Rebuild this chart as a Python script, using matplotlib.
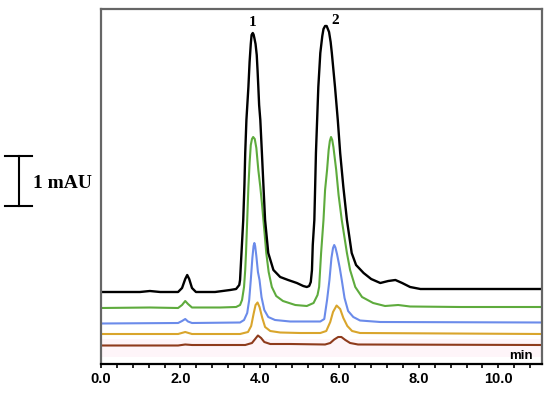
import numpy as np
import matplotlib
matplotlib.use("Agg")
import matplotlib.pyplot as plt
from matplotlib.lines import Line2D
from matplotlib.transforms import blended_transform_factory

# chromatogram traces (time in min, signal in mAU, offset stacked)
t_black = [0.00, 0.98, 1.23, 1.49, 1.94, 2.04, 2.12, 2.17, 2.22, 2.29, 2.39, 2.87, 3.25, 3.40, 3.48, 3.50,
           3.54, 3.58, 3.61, 3.63, 3.66, 3.71, 3.74, 3.77, 3.79, 3.82, 3.84, 3.86, 3.89, 3.92, 3.94, 3.96,
           3.98, 4.01, 4.05, 4.09, 4.13, 4.21, 4.34, 4.51, 4.71, 4.93, 5.09, 5.18, 5.24, 5.28, 5.31, 5.33,
           5.37, 5.39, 5.41, 5.44, 5.47, 5.52, 5.57, 5.60, 5.64, 5.68, 5.74, 5.78, 5.81, 5.89, 5.96, 6.02,
           6.10, 6.19, 6.31, 6.42, 6.61, 6.80, 7.03, 7.23, 7.41, 7.58, 7.78, 8.04, 9.04, 11.11]
y_black = [1.46, 1.46, 1.48, 1.46, 1.46, 1.54, 1.72, 1.80, 1.72, 1.54, 1.46, 1.46, 1.50, 1.52, 1.60, 1.70,
           2.30, 2.90, 3.60, 4.24, 4.90, 5.56, 6.06, 6.42, 6.60, 6.64, 6.61, 6.54, 6.42, 6.20, 5.90, 5.56,
           5.20, 4.90, 4.24, 3.56, 2.90, 2.24, 1.90, 1.76, 1.70, 1.64, 1.58, 1.56, 1.58, 1.66, 1.90, 2.40,
           2.90, 3.56, 4.24, 4.90, 5.56, 6.24, 6.58, 6.72, 6.78, 6.78, 6.66, 6.46, 6.24, 5.56, 4.90, 4.24,
           3.56, 2.90, 2.24, 2.00, 1.84, 1.72, 1.64, 1.68, 1.70, 1.64, 1.56, 1.52, 1.52, 1.52]

t_green = [0.00, 1.23, 1.94, 2.04, 2.12, 2.19, 2.29, 3.00, 3.40, 3.50, 3.55, 3.60, 3.63, 3.65, 3.68, 3.71,
           3.74, 3.77, 3.80, 3.83, 3.87, 3.91, 3.96, 4.01, 4.05, 4.11, 4.16, 4.22, 4.30, 4.41, 4.58, 4.89,
           5.18, 5.35, 5.45, 5.49, 5.54, 5.60, 5.64, 5.69, 5.73, 5.76, 5.79, 5.82, 5.85, 5.92, 5.98, 6.06,
           6.19, 6.27, 6.40, 6.57, 6.85, 7.15, 7.48, 7.78, 9.04, 11.11]
y_green = [1.14, 1.15, 1.14, 1.20, 1.28, 1.22, 1.15, 1.15, 1.16, 1.20, 1.30, 1.56, 1.90, 2.24, 2.90, 3.56,
           4.04, 4.40, 4.52, 4.56, 4.52, 4.34, 3.90, 3.56, 3.24, 2.70, 2.24, 1.86, 1.56, 1.38, 1.28, 1.20,
           1.18, 1.24, 1.40, 1.56, 2.24, 2.90, 3.50, 3.90, 4.30, 4.48, 4.56, 4.50, 4.36, 3.90, 3.40, 2.90,
           2.24, 1.90, 1.56, 1.36, 1.24, 1.18, 1.20, 1.17, 1.16, 1.16]

t_blue = [0.00, 1.94, 2.04, 2.12, 2.19, 2.29, 3.50, 3.60, 3.68, 3.73, 3.77, 3.81, 3.84, 3.86, 3.88, 3.91,
          3.95, 3.99, 4.04, 4.11, 4.21, 4.38, 4.76, 5.52, 5.62, 5.69, 5.75, 5.80, 5.84, 5.87, 5.90, 5.94,
          6.01, 6.06, 6.13, 6.22, 6.35, 6.52, 7.03, 11.11]
y_blue = [0.83, 0.84, 0.88, 0.92, 0.87, 0.84, 0.85, 0.90, 1.04, 1.30, 1.70, 2.14, 2.38, 2.44, 2.38, 2.18,
          1.86, 1.70, 1.36, 1.10, 0.96, 0.90, 0.87, 0.87, 0.92, 1.30, 1.70, 2.14, 2.34, 2.40, 2.35, 2.22,
          1.94, 1.70, 1.34, 1.08, 0.96, 0.89, 0.86, 0.85]

t_yellow = [0.00, 1.94, 2.12, 2.29, 3.50, 3.70, 3.78, 3.84, 3.89, 3.94, 3.99, 4.06, 4.13, 4.26, 4.51, 5.01,
            5.52, 5.67, 5.77, 5.84, 5.93, 6.02, 6.10, 6.20, 6.32, 6.52, 11.11]
y_yellow = [0.62, 0.62, 0.66, 0.62, 0.62, 0.66, 0.78, 1.02, 1.20, 1.25, 1.16, 0.94, 0.76, 0.68, 0.65, 0.64,
            0.64, 0.68, 0.86, 1.06, 1.19, 1.12, 0.94, 0.78, 0.68, 0.64, 0.62]

t_brown = [0.00, 1.94, 2.12, 2.29, 3.63, 3.80, 3.88, 3.95, 4.03, 4.11, 4.26, 4.76, 5.64, 5.77, 5.87, 5.97,
           6.05, 6.15, 6.27, 6.47, 11.11]
y_brown = [0.39, 0.39, 0.41, 0.40, 0.40, 0.44, 0.52, 0.59, 0.54, 0.46, 0.42, 0.42, 0.41, 0.44, 0.51, 0.56,
           0.56, 0.50, 0.44, 0.41, 0.40]

peak_labels = ["1", "2"]
peak_pos = [(3.82, 6.86), (5.90, 6.90)]
x_ticks = [0, 2, 4, 6, 8, 10]

fig = plt.figure(figsize=(5.5, 3.94), dpi=100)
ax = fig.add_axes([101/550, 30/394, 441/550, 355/394])

# faint tint seen in the original scan
ax.axhspan(0.17, 0.53, color="#fef5f9", zorder=0, lw=0)

ax.plot(t_brown, y_brown, color="#8e3b1c", lw=1.5)
ax.plot(t_yellow, y_yellow, color="#d9a52c", lw=1.5)
ax.plot(t_blue, y_blue, color="#6b8bea", lw=1.5)
ax.plot(t_green, y_green, color="#5eab3d", lw=1.5)
ax.plot(t_black, y_black, color="black", lw=1.7)

for lab, (px, py) in zip(peak_labels, peak_pos):
    ax.text(px, py, lab, ha="center", va="center", fontsize=11, fontweight="bold",
            family="Liberation Serif")
ax.text(10.58, 0.18, "min", ha="center", va="center", fontsize=9.5, fontweight="bold",
        family="Liberation Sans")

ax.set_xlim(0, 11.1)
ax.set_ylim(0.02, 7.12)
ax.set_yticks([])
ax.set_xticks(x_ticks)
ax.set_xticklabels(["%.1f" % v for v in x_ticks], fontsize=10.5, fontweight="bold",
                   family="Liberation Sans")
ax.set_xticks(np.arange(0, 11.1, 0.4), minor=True)
ax.tick_params(axis="x", which="both", direction="out", length=3, width=1.2, pad=3)
for side in ["left", "top", "right"]:
    ax.spines[side].set_color("#666666")
    ax.spines[side].set_linewidth(1.6)
ax.spines["bottom"].set_color("black")
ax.spines["bottom"].set_linewidth(1.6)

# scale bar (1 mAU) outside the axes
tr = blended_transform_factory(fig.transFigure, ax.transData)
x0, xl, xr = 19/550, 5/550, 32/550
fig.add_artist(Line2D([x0, x0], [3.18, 4.18], transform=tr, color="black", lw=1.5))
fig.add_artist(Line2D([xl, xr], [3.18, 3.18], transform=tr, color="black", lw=1.5))
fig.add_artist(Line2D([xl, xr], [4.18, 4.18], transform=tr, color="black", lw=1.5))
fig.text(33/550, 3.64, "1 mAU", transform=tr, ha="left", va="center", fontsize=14,
         fontweight="bold", family="Liberation Serif")

fig.savefig("out.png", dpi=100)
